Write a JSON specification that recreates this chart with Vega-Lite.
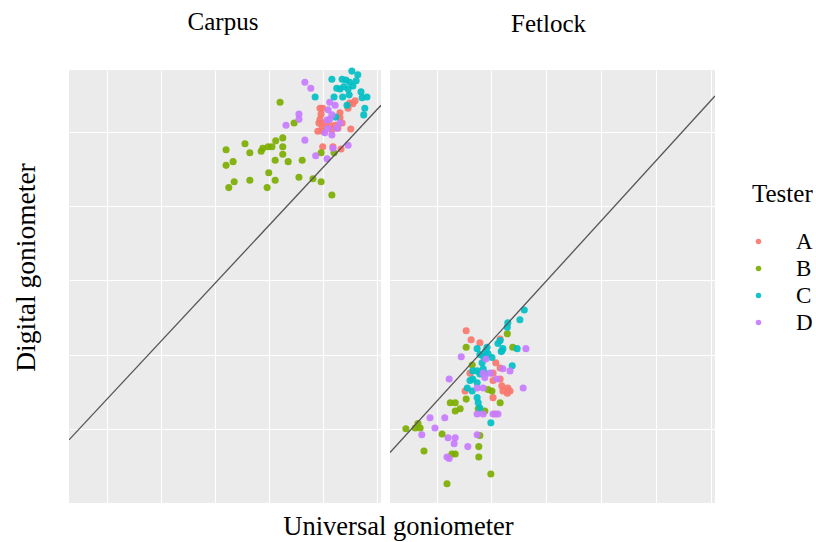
{
"$schema": "https://vega.github.io/schema/vega-lite/v6.json",
"padding": {"left": 12, "top": 9, "right": 0, "bottom": 0},
"background": "white",
"config": {
  "font": "Liberation Serif",
  "view": {"fill": "#EBEBEB", "stroke": null},
  "axis": {"labels": false, "ticks": false, "domain": false, "gridColor": "white", "gridWidth": 1.1, "gridOpacity": 1, "titleFont": "Liberation Serif", "titleFontSize": 25, "titleFontWeight": "normal", "titleColor": "black"},
  "title": {"font": "Liberation Serif", "fontSize": 25, "fontWeight": "normal", "color": "black"},
  "legend": {"titleFont": "Liberation Serif", "titleFontSize": 25, "titleFontWeight": "normal", "titleColor": "black", "labelFont": "Liberation Serif", "labelFontSize": 23, "labelColor": "black"}
},
"datasets": {
  "points": [
{"joint":"Carpus","tester":"A","universal":59.5,"digital":63.2},
{"joint":"Carpus","tester":"A","universal":60.0,"digital":63.2},
{"joint":"Carpus","tester":"A","universal":59.7,"digital":62.4},
{"joint":"Carpus","tester":"A","universal":59.5,"digital":61.7},
{"joint":"Carpus","tester":"A","universal":59.3,"digital":61.2},
{"joint":"Carpus","tester":"A","universal":59.1,"digital":60.1},
{"joint":"Carpus","tester":"A","universal":60.0,"digital":60.1},
{"joint":"Carpus","tester":"A","universal":59.9,"digital":60.7},
{"joint":"Carpus","tester":"A","universal":60.4,"digital":61.2},
{"joint":"Carpus","tester":"A","universal":61.3,"digital":60.9},
{"joint":"Carpus","tester":"A","universal":61.7,"digital":60.3},
{"joint":"Carpus","tester":"A","universal":62.3,"digital":60.9},
{"joint":"Carpus","tester":"A","universal":62.8,"digital":60.5},
{"joint":"Carpus","tester":"A","universal":63.6,"digital":61.2},
{"joint":"Carpus","tester":"A","universal":63.2,"digital":61.9},
{"joint":"Carpus","tester":"A","universal":63.2,"digital":62.6},
{"joint":"Carpus","tester":"A","universal":65.0,"digital":63.9},
{"joint":"Carpus","tester":"A","universal":65.6,"digital":63.8},
{"joint":"Carpus","tester":"A","universal":66.0,"digital":64.2},
{"joint":"Carpus","tester":"A","universal":64.7,"digital":63.2},
{"joint":"Carpus","tester":"A","universal":65.2,"digital":60.4},
{"joint":"Carpus","tester":"A","universal":60.0,"digital":58.0},
{"joint":"Carpus","tester":"A","universal":63.4,"digital":57.7},
{"joint":"Carpus","tester":"A","universal":61.9,"digital":58.0},
{"joint":"Carpus","tester":"B","universal":52.1,"digital":64.0},
{"joint":"Carpus","tester":"B","universal":54.7,"digital":61.2},
{"joint":"Carpus","tester":"B","universal":42.1,"digital":57.6},
{"joint":"Carpus","tester":"B","universal":42.1,"digital":55.5},
{"joint":"Carpus","tester":"B","universal":43.4,"digital":56.0},
{"joint":"Carpus","tester":"B","universal":45.6,"digital":58.4},
{"joint":"Carpus","tester":"B","universal":46.5,"digital":57.2},
{"joint":"Carpus","tester":"B","universal":48.6,"digital":57.4},
{"joint":"Carpus","tester":"B","universal":48.9,"digital":57.8},
{"joint":"Carpus","tester":"B","universal":49.9,"digital":58.0},
{"joint":"Carpus","tester":"B","universal":50.6,"digital":58.0},
{"joint":"Carpus","tester":"B","universal":51.3,"digital":58.8},
{"joint":"Carpus","tester":"B","universal":52.6,"digital":59.2},
{"joint":"Carpus","tester":"B","universal":52.6,"digital":58.0},
{"joint":"Carpus","tester":"B","universal":52.6,"digital":57.0},
{"joint":"Carpus","tester":"B","universal":51.2,"digital":56.2},
{"joint":"Carpus","tester":"B","universal":53.6,"digital":56.0},
{"joint":"Carpus","tester":"B","universal":56.2,"digital":56.2},
{"joint":"Carpus","tester":"B","universal":50.0,"digital":54.5},
{"joint":"Carpus","tester":"B","universal":51.2,"digital":53.5},
{"joint":"Carpus","tester":"B","universal":46.5,"digital":53.5},
{"joint":"Carpus","tester":"B","universal":43.6,"digital":53.3},
{"joint":"Carpus","tester":"B","universal":42.6,"digital":52.5},
{"joint":"Carpus","tester":"B","universal":49.7,"digital":52.5},
{"joint":"Carpus","tester":"B","universal":55.6,"digital":53.9},
{"joint":"Carpus","tester":"B","universal":58.2,"digital":53.7},
{"joint":"Carpus","tester":"B","universal":59.7,"digital":53.3},
{"joint":"Carpus","tester":"B","universal":61.7,"digital":51.5},
{"joint":"Carpus","tester":"B","universal":59.7,"digital":57.2},
{"joint":"Carpus","tester":"B","universal":62.1,"digital":57.2},
{"joint":"Carpus","tester":"C","universal":65.4,"digital":68.2},
{"joint":"Carpus","tester":"C","universal":66.5,"digital":67.7},
{"joint":"Carpus","tester":"C","universal":61.7,"digital":67.1},
{"joint":"Carpus","tester":"C","universal":63.6,"digital":67.1},
{"joint":"Carpus","tester":"C","universal":64.3,"digital":67.0},
{"joint":"Carpus","tester":"C","universal":65.0,"digital":66.7},
{"joint":"Carpus","tester":"C","universal":62.6,"digital":65.9},
{"joint":"Carpus","tester":"C","universal":63.9,"digital":66.1},
{"joint":"Carpus","tester":"C","universal":64.7,"digital":65.8},
{"joint":"Carpus","tester":"C","universal":65.6,"digital":66.2},
{"joint":"Carpus","tester":"C","universal":62.1,"digital":64.7},
{"joint":"Carpus","tester":"C","universal":63.7,"digital":64.7},
{"joint":"Carpus","tester":"C","universal":64.9,"digital":65.0},
{"joint":"Carpus","tester":"C","universal":67.1,"digital":65.4},
{"joint":"Carpus","tester":"C","universal":67.3,"digital":64.6},
{"joint":"Carpus","tester":"C","universal":68.2,"digital":64.7},
{"joint":"Carpus","tester":"C","universal":58.6,"digital":64.7},
{"joint":"Carpus","tester":"C","universal":64.5,"digital":63.6},
{"joint":"Carpus","tester":"C","universal":67.8,"digital":63.2},
{"joint":"Carpus","tester":"C","universal":67.6,"digital":62.3},
{"joint":"Carpus","tester":"C","universal":62.4,"digital":62.0},
{"joint":"Carpus","tester":"C","universal":66.2,"digital":66.9},
{"joint":"Carpus","tester":"C","universal":63.2,"digital":65.8},
{"joint":"Carpus","tester":"D","universal":56.7,"digital":66.7},
{"joint":"Carpus","tester":"D","universal":57.8,"digital":65.9},
{"joint":"Carpus","tester":"D","universal":55.6,"digital":62.4},
{"joint":"Carpus","tester":"D","universal":55.6,"digital":61.7},
{"joint":"Carpus","tester":"D","universal":53.2,"digital":60.9},
{"joint":"Carpus","tester":"D","universal":56.7,"digital":58.9},
{"joint":"Carpus","tester":"D","universal":58.7,"digital":56.8},
{"joint":"Carpus","tester":"D","universal":60.8,"digital":56.4},
{"joint":"Carpus","tester":"D","universal":61.9,"digital":57.8},
{"joint":"Carpus","tester":"D","universal":64.7,"digital":58.2},
{"joint":"Carpus","tester":"D","universal":61.3,"digital":64.0},
{"joint":"Carpus","tester":"D","universal":62.3,"digital":63.6},
{"joint":"Carpus","tester":"D","universal":61.0,"digital":63.0},
{"joint":"Carpus","tester":"D","universal":61.7,"digital":62.3},
{"joint":"Carpus","tester":"D","universal":60.8,"digital":61.6},
{"joint":"Carpus","tester":"D","universal":61.0,"digital":60.5},
{"joint":"Carpus","tester":"D","universal":62.6,"digital":60.5},
{"joint":"Carpus","tester":"D","universal":63.2,"digital":61.2},
{"joint":"Carpus","tester":"D","universal":60.4,"digital":59.9},
{"joint":"Carpus","tester":"D","universal":61.7,"digital":59.6},
{"joint":"Carpus","tester":"D","universal":61.3,"digital":61.7},
{"joint":"Fetlock","tester":"A","universal":25.4,"digital":33.2},
{"joint":"Fetlock","tester":"A","universal":26.3,"digital":32.0},
{"joint":"Fetlock","tester":"A","universal":27.9,"digital":31.6},
{"joint":"Fetlock","tester":"A","universal":31.6,"digital":32.1},
{"joint":"Fetlock","tester":"A","universal":30.8,"digital":28.9},
{"joint":"Fetlock","tester":"A","universal":31.6,"digital":28.2},
{"joint":"Fetlock","tester":"A","universal":30.3,"digital":27.5},
{"joint":"Fetlock","tester":"A","universal":26.1,"digital":27.5},
{"joint":"Fetlock","tester":"A","universal":30.3,"digital":26.5},
{"joint":"Fetlock","tester":"A","universal":31.6,"digital":26.7},
{"joint":"Fetlock","tester":"A","universal":31.9,"digital":25.8},
{"joint":"Fetlock","tester":"A","universal":32.1,"digital":25.1},
{"joint":"Fetlock","tester":"A","universal":32.9,"digital":24.8},
{"joint":"Fetlock","tester":"A","universal":33.4,"digital":25.1},
{"joint":"Fetlock","tester":"A","universal":33.0,"digital":25.5},
{"joint":"Fetlock","tester":"A","universal":30.3,"digital":24.2},
{"joint":"Fetlock","tester":"A","universal":25.2,"digital":25.1},
{"joint":"Fetlock","tester":"A","universal":30.7,"digital":22.0},
{"joint":"Fetlock","tester":"B","universal":32.9,"digital":32.8},
{"joint":"Fetlock","tester":"B","universal":33.9,"digital":31.0},
{"joint":"Fetlock","tester":"B","universal":25.4,"digital":31.0},
{"joint":"Fetlock","tester":"B","universal":26.5,"digital":28.6},
{"joint":"Fetlock","tester":"B","universal":29.4,"digital":25.3},
{"joint":"Fetlock","tester":"B","universal":30.1,"digital":25.1},
{"joint":"Fetlock","tester":"B","universal":25.4,"digital":24.0},
{"joint":"Fetlock","tester":"B","universal":22.5,"digital":23.5},
{"joint":"Fetlock","tester":"B","universal":23.4,"digital":23.5},
{"joint":"Fetlock","tester":"B","universal":24.3,"digital":22.7},
{"joint":"Fetlock","tester":"B","universal":23.4,"digital":22.4},
{"joint":"Fetlock","tester":"B","universal":27.6,"digital":22.7},
{"joint":"Fetlock","tester":"B","universal":28.8,"digital":22.4},
{"joint":"Fetlock","tester":"B","universal":31.6,"digital":23.5},
{"joint":"Fetlock","tester":"B","universal":14.4,"digital":20.0},
{"joint":"Fetlock","tester":"B","universal":16.1,"digital":20.1},
{"joint":"Fetlock","tester":"B","universal":16.6,"digital":20.7},
{"joint":"Fetlock","tester":"B","universal":17.0,"digital":20.1},
{"joint":"Fetlock","tester":"B","universal":21.0,"digital":19.3},
{"joint":"Fetlock","tester":"B","universal":27.9,"digital":19.1},
{"joint":"Fetlock","tester":"B","universal":27.7,"digital":17.6},
{"joint":"Fetlock","tester":"B","universal":27.7,"digital":16.2},
{"joint":"Fetlock","tester":"B","universal":22.8,"digital":16.6},
{"joint":"Fetlock","tester":"B","universal":23.4,"digital":16.6},
{"joint":"Fetlock","tester":"B","universal":17.7,"digital":17.0},
{"joint":"Fetlock","tester":"B","universal":29.9,"digital":13.9},
{"joint":"Fetlock","tester":"B","universal":21.9,"digital":12.6},
{"joint":"Fetlock","tester":"C","universal":36.0,"digital":36.0},
{"joint":"Fetlock","tester":"C","universal":35.2,"digital":34.7},
{"joint":"Fetlock","tester":"C","universal":33.0,"digital":34.3},
{"joint":"Fetlock","tester":"C","universal":32.9,"digital":33.7},
{"joint":"Fetlock","tester":"C","universal":31.2,"digital":31.5},
{"joint":"Fetlock","tester":"C","universal":31.9,"digital":30.5},
{"joint":"Fetlock","tester":"C","universal":31.6,"digital":31.9},
{"joint":"Fetlock","tester":"C","universal":32.1,"digital":30.8},
{"joint":"Fetlock","tester":"C","universal":31.8,"digital":30.4},
{"joint":"Fetlock","tester":"C","universal":34.7,"digital":30.8},
{"joint":"Fetlock","tester":"C","universal":27.4,"digital":30.8},
{"joint":"Fetlock","tester":"C","universal":29.2,"digital":31.0},
{"joint":"Fetlock","tester":"C","universal":29.4,"digital":30.1},
{"joint":"Fetlock","tester":"C","universal":29.0,"digital":30.5},
{"joint":"Fetlock","tester":"C","universal":28.5,"digital":29.8},
{"joint":"Fetlock","tester":"C","universal":27.9,"digital":30.0},
{"joint":"Fetlock","tester":"C","universal":28.8,"digital":29.6},
{"joint":"Fetlock","tester":"C","universal":30.1,"digital":29.6},
{"joint":"Fetlock","tester":"C","universal":28.3,"digital":28.9},
{"joint":"Fetlock","tester":"C","universal":28.5,"digital":28.1},
{"joint":"Fetlock","tester":"C","universal":27.4,"digital":27.8},
{"joint":"Fetlock","tester":"C","universal":26.6,"digital":27.8},
{"joint":"Fetlock","tester":"C","universal":33.8,"digital":28.5},
{"joint":"Fetlock","tester":"C","universal":26.1,"digital":26.5},
{"joint":"Fetlock","tester":"C","universal":26.6,"digital":26.7},
{"joint":"Fetlock","tester":"C","universal":27.4,"digital":26.2},
{"joint":"Fetlock","tester":"C","universal":25.6,"digital":25.5},
{"joint":"Fetlock","tester":"C","universal":26.5,"digital":25.1},
{"joint":"Fetlock","tester":"C","universal":27.4,"digital":24.2},
{"joint":"Fetlock","tester":"C","universal":27.6,"digital":23.5},
{"joint":"Fetlock","tester":"C","universal":27.9,"digital":22.8},
{"joint":"Fetlock","tester":"C","universal":29.9,"digital":20.8},
{"joint":"Fetlock","tester":"C","universal":28.8,"digital":27.5},
{"joint":"Fetlock","tester":"C","universal":27.9,"digital":27.4},
{"joint":"Fetlock","tester":"D","universal":36.3,"digital":30.8},
{"joint":"Fetlock","tester":"D","universal":24.5,"digital":29.7},
{"joint":"Fetlock","tester":"D","universal":29.0,"digital":29.4},
{"joint":"Fetlock","tester":"D","universal":32.1,"digital":28.1},
{"joint":"Fetlock","tester":"D","universal":33.4,"digital":27.8},
{"joint":"Fetlock","tester":"D","universal":28.5,"digital":27.5},
{"joint":"Fetlock","tester":"D","universal":29.8,"digital":27.5},
{"joint":"Fetlock","tester":"D","universal":22.3,"digital":26.7},
{"joint":"Fetlock","tester":"D","universal":28.8,"digital":26.9},
{"joint":"Fetlock","tester":"D","universal":31.0,"digital":26.7},
{"joint":"Fetlock","tester":"D","universal":35.8,"digital":25.5},
{"joint":"Fetlock","tester":"D","universal":27.4,"digital":25.5},
{"joint":"Fetlock","tester":"D","universal":28.5,"digital":25.5},
{"joint":"Fetlock","tester":"D","universal":27.4,"digital":22.0},
{"joint":"Fetlock","tester":"D","universal":28.5,"digital":22.0},
{"joint":"Fetlock","tester":"D","universal":30.3,"digital":22.0},
{"joint":"Fetlock","tester":"D","universal":31.2,"digital":22.0},
{"joint":"Fetlock","tester":"D","universal":18.8,"digital":21.5},
{"joint":"Fetlock","tester":"D","universal":21.5,"digital":21.5},
{"joint":"Fetlock","tester":"D","universal":19.7,"digital":20.1},
{"joint":"Fetlock","tester":"D","universal":17.3,"digital":19.2},
{"joint":"Fetlock","tester":"D","universal":22.1,"digital":18.8},
{"joint":"Fetlock","tester":"D","universal":23.4,"digital":18.8},
{"joint":"Fetlock","tester":"D","universal":23.2,"digital":18.0},
{"joint":"Fetlock","tester":"D","universal":25.7,"digital":17.6},
{"joint":"Fetlock","tester":"D","universal":27.4,"digital":19.2},
{"joint":"Fetlock","tester":"D","universal":21.9,"digital":16.2},
{"joint":"Fetlock","tester":"D","universal":22.3,"digital":16.0}
  ],
  "ref": [
{"joint":"Carpus","universal":13.0,"digital":18.5},
{"joint":"Carpus","universal":70.8,"digital":63.6},
{"joint":"Fetlock","universal":11.5,"digital":16.8},
{"joint":"Fetlock","universal":70.8,"digital":64.85}
  ]
},
"spacing": 9,
"title": {"text": "Universal goniometer", "orient": "bottom", "anchor": "middle", "offset": 11, "dx": -14, "fontSize": 26.5},
"hconcat": [
  {
    "width": 312, "height": 433,
    "title": {"text": "Carpus", "anchor": "middle", "offset": 33, "dx": -2},
    "layer": [
      {
        "data": {"name": "points"},
        "transform": [{"filter": "datum.joint === 'Carpus'"}],
        "mark": {"type": "circle", "size": 50, "opacity": 0.92},
        "encoding": {
          "x": {"field": "universal", "type": "quantitative", "scale": {"domain": [13.0, 70.8], "nice": false, "zero": false}, "axis": {"title": null, "values": [20, 30, 40, 50, 60, 70]}},
          "y": {"field": "digital", "type": "quantitative", "scale": {"domain": [10, 68.35], "nice": false, "zero": false}, "axis": {"title": "Digital goniometer", "values": [20, 30, 40, 50, 60], "titlePadding": 29, "titleY": 197, "titleFontSize": 27.5}},
          "color": {"field": "tester", "type": "nominal", "scale": {"domain": ["A", "B", "C", "D"], "range": ["#F8766D", "#7CAE00", "#00BFC4", "#C77CFF"]}, "legend": {"title": "Tester", "orient": "none", "legendX": 683, "legendY": 112, "symbolType": "circle", "symbolSize": 30, "symbolOpacity": 1, "symbolOffset": -5, "labelOffset": 26, "titlePadding": 23, "rowPadding": 3}}
        }
      },
      {
        "data": {"name": "ref"},
        "transform": [{"filter": "datum.joint === 'Carpus'"}],
        "mark": {"type": "line", "color": "#555555", "strokeWidth": 1.3, "clip": true},
        "encoding": {
          "x": {"field": "universal", "type": "quantitative"},
          "y": {"field": "digital", "type": "quantitative"}
        }
      }
    ]
  },
  {
    "width": 325, "height": 433,
    "title": {"text": "Fetlock", "anchor": "middle", "offset": 33, "dx": -4},
    "layer": [
      {
        "data": {"name": "points"},
        "transform": [{"filter": "datum.joint === 'Fetlock'"}],
        "mark": {"type": "circle", "size": 50, "opacity": 0.92},
        "encoding": {
          "x": {"field": "universal", "type": "quantitative", "scale": {"domain": [11.5, 70.8], "nice": false, "zero": false}, "axis": {"title": null, "values": [20, 30, 40, 50, 60, 70]}},
          "y": {"field": "digital", "type": "quantitative", "scale": {"domain": [10, 68.35], "nice": false, "zero": false}, "axis": {"title": null, "values": [20, 30, 40, 50, 60]}},
          "color": {"field": "tester", "type": "nominal"}
        }
      },
      {
        "data": {"name": "ref"},
        "transform": [{"filter": "datum.joint === 'Fetlock'"}],
        "mark": {"type": "line", "color": "#555555", "strokeWidth": 1.3, "clip": true},
        "encoding": {
          "x": {"field": "universal", "type": "quantitative"},
          "y": {"field": "digital", "type": "quantitative"}
        }
      }
    ]
  }
]
}
